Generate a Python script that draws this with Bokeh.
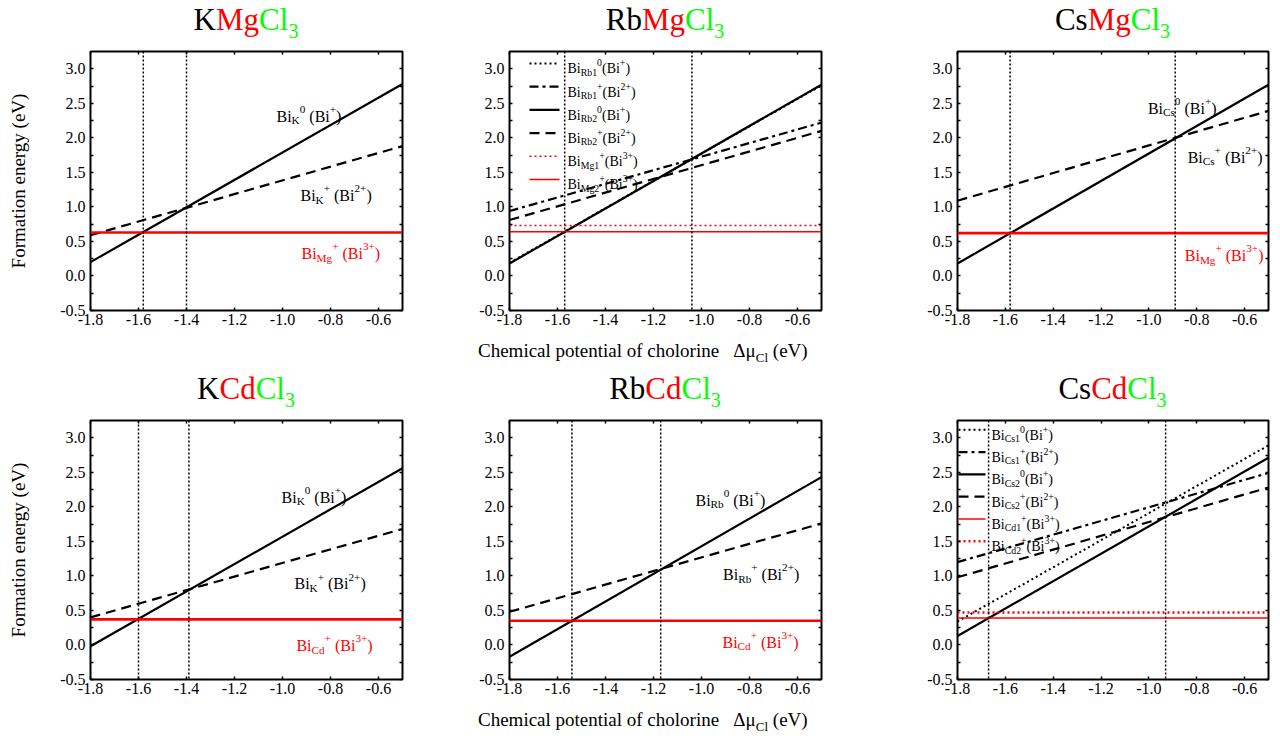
from bokeh.plotting import figure
from bokeh.models import Range1d, LinearAxis, FixedTicker, PrintfTickFormatter, Label, Span, Div, Spacer
from bokeh.layouts import column, row
from bokeh.embed import file_html
from bokeh.resources import INLINE

FONT = "Liberation Serif"
RED = "#FF0000"
GREEN = "#00FF00"
BLACK = "#000000"

# ---------------- data ----------------
X_RANGE = (-1.8, -0.5)
Y_RANGE = (-0.5, 3.25)
X_TICKS = [-1.8, -1.6, -1.4, -1.2, -1.0, -0.8, -0.6]
Y_TICKS = [-0.5, 0.0, 0.5, 1.0, 1.5, 2.0, 2.5, 3.0]
Y_MINOR = [-0.25, 0.25, 0.75, 1.25, 1.75, 2.25, 2.75]
MU_ENDS = [-1.8, -0.5]          # chemical potential end points of every line

TITLES = [("K", "Mg"), ("Rb", "Mg"), ("Cs", "Mg"), ("K", "Cd"), ("Rb", "Cd"), ("Cs", "Cd")]
Y_LABEL = "Formation energy (eV)"

# KMgCl3
kmg_bik0 = [0.20, 2.78]
kmg_bikp = [0.59, 1.88]
kmg_bimg = 0.63
kmg_vlines = [-1.58, -1.40]
# RbMgCl3
rbmg_birb1_0 = [0.19, 2.76]
rbmg_birb1_p = [0.94, 2.22]
rbmg_birb2_0 = [0.18, 2.77]
rbmg_birb2_p = [0.81, 2.10]
rbmg_bimg1 = 0.73
rbmg_bimg2 = 0.64
rbmg_vlines = [-1.57, -1.04]
# CsMgCl3
csmg_bics0 = [0.18, 2.77]
csmg_bicsp = [1.09, 2.39]
csmg_bimg = 0.62
csmg_vlines = [-1.58, -0.89]
# KCdCl3
kcd_bik0 = [-0.02, 2.56]
kcd_bikp = [0.40, 1.68]
kcd_bicd = 0.37
kcd_vlines = [-1.60, -1.39]
# RbCdCl3
rbcd_birb0 = [-0.17, 2.43]
rbcd_birbp = [0.48, 1.76]
rbcd_bicd = 0.35
rbcd_vlines = [-1.54, -1.17]
# CsCdCl3
cscd_bics1_0 = [0.34, 2.89]
cscd_bics1_p = [1.20, 2.49]
cscd_bics2_0 = [0.13, 2.71]
cscd_bics2_p = [0.98, 2.28]
cscd_bicd1 = 0.39
cscd_bicd2 = 0.47
cscd_vlines = [-1.67, -0.93]

# ---------------- styles ----------------
S_SOLID = dict(line_color=BLACK, line_width=2.2)
S_DASH = dict(line_color=BLACK, line_width=2.2, line_dash="10 6")
S_DASHDOT = dict(line_color=BLACK, line_width=2.2, line_dash="9 4 3 4")
S_DOT = dict(line_color=BLACK, line_width=2.0, line_dash="2 3")
R_THICK = dict(line_color=RED, line_width=2.6)
R_THIN = dict(line_color=RED, line_width=1.6)
R_DOT_THIN = dict(line_color=RED, line_width=1.4, line_dash="2 3")
R_DOT_THICK = dict(line_color=RED, line_width=2.4, line_dash="2 3")

# Times-like advance widths (em)
CW = {' ': .25, '(': .333, ')': .333, '+': .564, '.': .25, '-': .333,
      'A': .722, 'B': .667, 'C': .667, 'D': .722, 'E': .611, 'F': .556, 'K': .722,
      'M': .889, 'R': .667, 'V': .722,
      'a': .444, 'b': .5, 'c': .444, 'd': .5, 'e': .444, 'f': .333, 'g': .5, 'h': .5,
      'i': .278, 'l': .278, 'm': .778, 'n': .5, 'o': .5, 'p': .5, 'r': .333, 's': .389,
      't': .278, 'y': .5, 'Δ': .612, 'μ': .5}


def text_w(s, size):
    return sum(CW.get(c, .5) for c in s) * size


def rich(p, x, y, segs, size, x_off=0.0, y_off=0.0, **kw):
    cur = 0.0
    for t, kind, col in segs:
        if kind == "n":
            fs, dy = size, 0.0
        elif kind == "sub":
            fs, dy = size * 0.7, -0.25 * size
        else:
            fs, dy = size * 0.7, 0.42 * size
        lead = len(t) - len(t.lstrip(" "))
        cur += text_w(" " * lead, fs)
        body = t.lstrip(" ")
        if body:
            p.add_layout(Label(x=x, y=y, x_offset=x_off + cur, y_offset=y_off + dy,
                               text=body, text_font=FONT, text_font_size=f"{fs:.1f}px",
                               text_color=col, text_baseline="alphabetic", text_align="left", **kw))
        cur += text_w(body, fs)


def defect(base, site, charge, ion, col=BLACK, gap=" "):
    return [(base, "n", col), (site, "sub", col), (charge, "sup", col),
            (gap + "(Bi", "n", col), (ion, "sup", col), (")", "n", col)]


def style_axis(ax, ticker, labels=True, standoff=4):
    ax.ticker = ticker
    ax.axis_line_color = None
    ax.major_tick_in = 3
    ax.major_tick_out = 0
    ax.minor_tick_in = 3
    ax.minor_tick_out = 0
    ax.major_tick_line_color = BLACK
    ax.minor_tick_line_color = BLACK
    ax.major_tick_line_width = 1.5
    ax.minor_tick_line_width = 1.5
    ax.formatter = PrintfTickFormatter(format="%.1f")
    ax.major_label_text_font = FONT
    if labels:
        ax.major_label_text_color = BLACK
        ax.major_label_text_font_size = "16px"
        ax.major_label_standoff = standoff
    else:
        # tick marks only on the top / right frame edges
        ax.major_label_text_color = None
        ax.major_label_text_font_size = "0px"
        ax.major_label_standoff = 0


def make_fig(width, height, lb, rb, tb, bb, ylabel=False):
    p = figure(width=width, height=height, x_range=Range1d(*X_RANGE), y_range=Range1d(*Y_RANGE),
               output_backend="svg", toolbar_location=None,
               min_border_left=lb, min_border_right=rb, min_border_top=tb, min_border_bottom=bb)
    p.grid.visible = False
    p.outline_line_color = BLACK
    p.outline_line_width = 2
    p.background_fill_color = "white"
    p.border_fill_color = "white"
    style_axis(p.xaxis[0], FixedTicker(ticks=X_TICKS, minor_ticks=[]), standoff=3)
    style_axis(p.yaxis[0], FixedTicker(ticks=Y_TICKS, minor_ticks=Y_MINOR), standoff=5)
    ax_r = LinearAxis()
    style_axis(ax_r, FixedTicker(ticks=Y_TICKS, minor_ticks=Y_MINOR), labels=False)
    p.add_layout(ax_r, "right")
    ax_t = LinearAxis()
    style_axis(ax_t, FixedTicker(ticks=X_TICKS, minor_ticks=[]), labels=False)
    p.add_layout(ax_t, "above")
    if ylabel:
        p.yaxis[0].axis_label = Y_LABEL
        p.yaxis[0].axis_label_text_font = FONT
        p.yaxis[0].axis_label_text_font_size = "19px"
        p.yaxis[0].axis_label_text_font_style = "normal"
        p.yaxis[0].axis_label_text_color = BLACK
        p.yaxis[0].axis_label_standoff = 28
    return p


def vlines(p, locs):
    for v in locs:
        p.add_layout(Span(location=v, dimension="height", line_color=BLACK,
                          line_width=1.5, line_dash="2 2"))


def legend(p, fw, fh, entries, x0, x1, tx, y0, dy):
    p.extra_x_ranges = {"px": Range1d(0, fw)}
    p.extra_y_ranges = {"px": Range1d(fh, 0)}
    for k, (style, segs) in enumerate(entries):
        yy = y0 + k * dy
        p.line([x0, x1], [yy, yy], x_range_name="px", y_range_name="px", **style)
        rich(p, tx, yy, segs, 14, y_off=-5.3, x_range_name="px", y_range_name="px")


# ---------------- layout (px) ----------------
FW = [312, 312, 311]
FH = 259
LB = [90, 97, 126]
RB = [10, 10, 12]
TB = 6
BB = 28
TITLE_H = [45, 37]
TITLE_LH = [39, 23]
XLAB_H = [39, 31]
W = [LB[i] + FW[i] + RB[i] for i in range(3)]
H = TB + FH + BB

figs = []
for r in range(2):
    for c in range(3):
        figs.append(make_fig(W[c], H, LB[c], RB[c], TB, BB, ylabel=(c == 0)))
p1, p2, p3, p4, p5, p6 = figs


def title_div(r, c, parts):
    a, b = parts
    html = (f'<div style="margin-left:{LB[c]}px;width:{FW[c]}px;text-align:center;'
            f'font-family:\'{FONT}\';font-size:31px;line-height:{TITLE_LH[r]}px;white-space:nowrap;">'
            f'<span style="color:{BLACK}">{a}</span><span style="color:{RED}">{b}</span>'
            f'<span style="color:{GREEN}">Cl<span style="font-size:20px;position:relative;top:8px;">3</span></span>'
            f'</div>')
    return Div(text=html, width=W[c], height=TITLE_H[r], margin=(0, 0, 0, 0), disable_math=True)


def xlabel_div(h):
    html = (f'<div style="margin-left:66px;padding-top:2px;font-family:\'{FONT}\';font-size:19px;'
            f'line-height:21px;white-space:nowrap;color:{BLACK};">'
            f'Chemical potential of cholorine&nbsp;&nbsp;&nbsp;&Delta;&mu;'
            f'<span style="font-size:13px;position:relative;top:5px;">Cl</span> (eV)</div>')
    return Div(text=html, width=W[1], height=h, margin=(0, 0, 0, 0), disable_math=True)


# KMgCl3
p1.line(MU_ENDS, kmg_bik0, **S_SOLID)
p1.line(MU_ENDS, kmg_bikp, **S_DASH)
p1.line(MU_ENDS, [kmg_bimg] * 2, **R_THICK)
vlines(p1, kmg_vlines)
rich(p1, -1.025, 2.31, defect("Bi", "K", "0", "+"), 16)
rich(p1, -0.925, 1.165, defect("Bi", "K", "+", "2+"), 16)
rich(p1, -0.921, 0.325, defect("Bi", "Mg", "+", "3+", RED), 16)

# RbMgCl3
p2.line(MU_ENDS, rbmg_birb2_0, **S_SOLID)
p2.line(MU_ENDS, rbmg_birb1_0, **S_DOT)
p2.line(MU_ENDS, rbmg_birb1_p, **S_DASHDOT)
p2.line(MU_ENDS, rbmg_birb2_p, **S_DASH)
p2.line(MU_ENDS, [rbmg_bimg1] * 2, **R_DOT_THIN)
p2.line(MU_ENDS, [rbmg_bimg2] * 2, **R_THIN)
vlines(p2, rbmg_vlines)
legend(p2, FW[1], FH, [
    (S_DOT, defect("Bi", "Rb1", "0", "+", gap="")),
    (S_DASHDOT, defect("Bi", "Rb1", "+", "2+", gap="")),
    (S_SOLID, defect("Bi", "Rb2", "0", "+", gap="")),
    (S_DASH, defect("Bi", "Rb2", "+", "2+", gap="")),
    (R_DOT_THIN, defect("Bi", "Mg1", "+", "3+", gap="")),
    (R_THIN, defect("Bi", "Mg2", "+", "3+", gap="")),
], 20, 50, 58, 12, 23.2)

# CsMgCl3
p3.line(MU_ENDS, csmg_bics0, **S_SOLID)
p3.line(MU_ENDS, csmg_bicsp, **S_DASH)
p3.line(MU_ENDS, [csmg_bimg] * 2, **R_THICK)
vlines(p3, csmg_vlines)
rich(p3, -1.004, 2.425, defect("Bi", "Cs", "0", "+"), 16)
rich(p3, -0.838, 1.72, defect("Bi", "Cs", "+", "2+"), 16)
rich(p3, -0.85, 0.296, defect("Bi", "Mg", "+", "3+", RED), 16)

# KCdCl3
p4.line(MU_ENDS, kcd_bik0, **S_SOLID)
p4.line(MU_ENDS, kcd_bikp, **S_DASH)
p4.line(MU_ENDS, [kcd_bicd] * 2, **R_THICK)
vlines(p4, kcd_vlines)
rich(p4, -1.004, 2.14, defect("Bi", "K", "0", "+"), 16)
rich(p4, -0.95, 0.886, defect("Bi", "K", "+", "2+"), 16)
rich(p4, -0.942, -0.008, defect("Bi", "Cd", "+", "3+", RED), 16)

# RbCdCl3
p5.line(MU_ENDS, rbcd_birb0, **S_SOLID)
p5.line(MU_ENDS, rbcd_birbp, **S_DASH)
p5.line(MU_ENDS, [rbcd_bicd] * 2, **R_THICK)
vlines(p5, rbcd_vlines)
rich(p5, -1.025, 2.092, defect("Bi", "Rb", "0", "+"), 16)
rich(p5, -0.91, 1.02, defect("Bi", "Rb", "+", "2+"), 16)
rich(p5, -0.9125, 0.04, defect("Bi", "Cd", "+", "3+", RED), 16)

# CsCdCl3
p6.line(MU_ENDS, cscd_bics2_0, **S_SOLID)
p6.line(MU_ENDS, cscd_bics1_0, **S_DOT)
p6.line(MU_ENDS, cscd_bics1_p, **S_DASHDOT)
p6.line(MU_ENDS, cscd_bics2_p, **S_DASH)
p6.line(MU_ENDS, [cscd_bicd1] * 2, **R_THIN)
p6.line(MU_ENDS, [cscd_bicd2] * 2, **R_DOT_THICK)
vlines(p6, cscd_vlines)
legend(p6, FW[2], FH, [
    (S_DOT, defect("Bi", "Cs1", "0", "+", gap="")),
    (S_DASHDOT, defect("Bi", "Cs1", "+", "2+", gap="")),
    (S_SOLID, defect("Bi", "Cs2", "0", "+", gap="")),
    (S_DASH, defect("Bi", "Cs2", "+", "2+", gap="")),
    (R_THIN, defect("Bi", "Cd1", "+", "3+", gap="")),
    (R_DOT_THICK, defect("Bi", "Cd2", "+", "3+", gap="")),
], 1, 28, 34, 9.3, 22.3)

rows = []
for r in range(2):
    rows.append(row(*[title_div(r, c, TITLES[3 * r + c]) for c in range(3)], spacing=0))
    rows.append(row(*figs[3 * r:3 * r + 3], spacing=0))
    rows.append(row(Spacer(width=W[0], height=XLAB_H[r]), xlabel_div(XLAB_H[r]),
                    Spacer(width=W[2], height=XLAB_H[r]), spacing=0))
layout = column(*rows, spacing=0)
open("out.html", "w").write(file_html(layout, INLINE))
